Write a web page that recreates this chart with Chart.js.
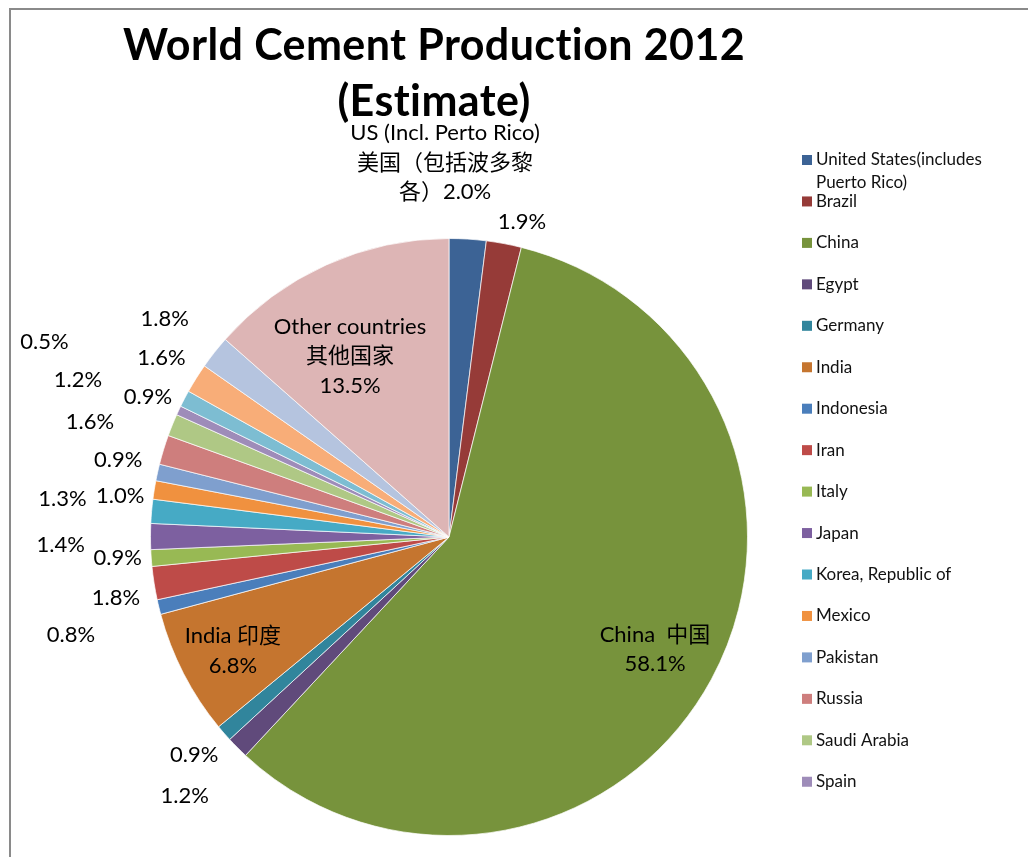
<!DOCTYPE html>
<html>
<head>
<meta charset="utf-8">
<script src="https://cdn.jsdelivr.net/npm/chart.js@4/dist/chart.umd.min.js"></script>
<style>
  html, body { margin: 0; padding: 0; background: #fff; }
  #wrap { position: relative; width: 1028px; height: 857px; }
</style>
</head>
<body>
<div id="wrap"><canvas id="pie" width="1028" height="857"></canvas></div>
<script>
// Countries in slice order (clockwise from 12 o'clock)
const countries = [
  'United States(includes Puerto Rico)', 'Brazil', 'China', 'Egypt', 'Germany',
  'India', 'Indonesia', 'Iran', 'Italy', 'Japan', 'Korea, Republic of', 'Mexico',
  'Pakistan', 'Russia', 'Saudi Arabia', 'Spain', 'Thailand', 'Turkey', 'Vietnam',
  'Other countries'
];

// Share of world cement production, percent
const shares = [
  2.0, 1.9, 58.1, 1.2, 0.9,
  6.8, 0.8, 1.8, 0.9, 1.4, 1.3, 1.0,
  0.9, 1.6, 1.2, 0.5, 0.9, 1.6, 1.8,
  13.5
];

// Slice fills
const sliceColors = [
  '#3c6395', '#963b38', '#77933c', '#604a7b', '#31859c',
  '#c5752f', '#4a7ebb', '#be4b48', '#98b954', '#7d60a0', '#46aac5', '#f0913f',
  '#7f9fce', '#ce7e7d', '#afc885', '#9e8cb9', '#7dbdd2', '#f8ad78', '#b5c4df',
  '#ddb5b5'
];

// Extra caption lines for the labelled slices; the percentage is appended to the last line
const captions = {
  0: ['US (Incl. Perto Rico)', '美国（包括波多黎', '各）'],
  2: ['China  中国', ''],
  5: ['India 印度', ''],
  19: ['Other countries', '其他国家', '']
};

// Label placement: distance from centre (in pie radii) and turn from the slice middle (degrees)
const labelRadius = [
  1.254, 1.085, 0.786, 1.239, 1.122,
  0.818, 1.308, 1.134, 1.112, 1.301, 1.301, 1.110,
  1.138, 1.263, 1.350, 1.505, 1.113, 1.135, 1.201,
  0.691
];
const labelTurn = [
  -4.2, 2.4, 0.1, 0.5, 0.6,
  -0.5, -0.9, -1.4, 0.5, -1.3, 0.7, -2.0,
  0.6, 0.8, 0.9, 0.7, -2.6, -0.2, -0.7,
  -4.4
];

const titleLines = ['World Cement Production 2012', '(Estimate)'];

const LABEL_FONT = '22px Lato, "Noto Sans CJK SC", sans-serif';
const LEGEND_FONT = '17px Lato, "Noto Sans CJK SC", sans-serif';
const TITLE_FONT = 'bold 43px Lato, "Noto Sans CJK SC", sans-serif';

// Frame, title and legend drawn around the pie
const decorations = {
  id: 'decorations',
  beforeDraw(chart) {
    const ctx = chart.ctx;
    ctx.save();
    ctx.fillStyle = '#ffffff';
    ctx.fillRect(0, 0, chart.width, chart.height);
    ctx.strokeStyle = '#8a8a8a';
    ctx.lineWidth = 2;
    ctx.beginPath();
    ctx.moveTo(10, chart.height);
    ctx.lineTo(10, 9);
    ctx.lineTo(chart.width, 9);
    ctx.stroke();
    ctx.restore();
  },
  afterDraw(chart) {
    const ctx = chart.ctx;
    ctx.save();
    // title
    ctx.fillStyle = '#000';
    ctx.font = TITLE_FONT;
    if ('letterSpacing' in ctx) ctx.letterSpacing = '0.4px';
    ctx.textAlign = 'center';
    ctx.textBaseline = 'alphabetic';
    titleLines.forEach((t, i) => ctx.fillText(t, 434, 60 + i * 56));
    if ('letterSpacing' in ctx) ctx.letterSpacing = '0px';

    // legend
    ctx.font = LEGEND_FONT;
    ctx.textAlign = 'left';
    ctx.textBaseline = 'middle';
    const maxW = 195, rowGap = 41.45, lineH = 23;
    let y = 160;
    for (let i = 0; i < countries.length; i++) {
      if (y > chart.height - 60) break;
      // wrap the name into lines
      const words = countries[i].split(' ');
      const lines = [];
      let cur = '';
      words.forEach(w => {
        const test = cur ? cur + ' ' + w : w;
        if (ctx.measureText(test).width > maxW && cur) { lines.push(cur); cur = w; }
        else cur = test;
      });
      lines.push(cur);
      ctx.fillStyle = sliceColors[i];
      ctx.fillRect(802, y - 5, 10, 10);
      ctx.fillStyle = '#111';
      lines.forEach((l, k) => ctx.fillText(l, 816, y + k * lineH));
      y += rowGap;
    }
    ctx.restore();
  }
};

// Percentage labels placed around each slice
const sliceLabels = {
  id: 'sliceLabels',
  afterDatasetsDraw(chart) {
    const ctx = chart.ctx;
    const meta = chart.getDatasetMeta(0);
    ctx.save();
    ctx.font = LABEL_FONT;
    ctx.fillStyle = '#000';
    ctx.textAlign = 'center';
    ctx.textBaseline = 'middle';
    const lineH = 29.5;
    meta.data.forEach((arc, i) => {
      const p = arc.getProps(['x', 'y', 'startAngle', 'endAngle', 'outerRadius'], true);
      const mid = (p.startAngle + p.endAngle) / 2 + labelTurn[i] * Math.PI / 180;
      const r = p.outerRadius * labelRadius[i];
      const cx = p.x + Math.cos(mid) * r;
      const cy = p.y + Math.sin(mid) * r;
      const pct = shares[i].toFixed(1) + '%';
      let lines = captions[i] ? captions[i].slice() : [''];
      lines[lines.length - 1] += pct;
      const top = cy - (lines.length - 1) * lineH / 2;
      lines.forEach((l, k) => ctx.fillText(l, cx, top + k * lineH));
    });
    ctx.restore();
  }
};

new Chart(document.getElementById('pie'), {
  type: 'pie',
  data: {
    labels: countries,
    datasets: [{
      data: shares,
      backgroundColor: sliceColors,
      borderColor: 'rgba(255,255,255,0.7)',
      borderWidth: 1
    }]
  },
  options: {
    responsive: false,
    devicePixelRatio: 1,
    animation: false,
    layout: { padding: { left: 150, right: 280, top: 238, bottom: 21 } },
    plugins: {
      legend: { display: false },
      title: { display: false },
      tooltip: { enabled: false }
    }
  },
  plugins: [decorations, sliceLabels]
});
</script>
</body>
</html>
